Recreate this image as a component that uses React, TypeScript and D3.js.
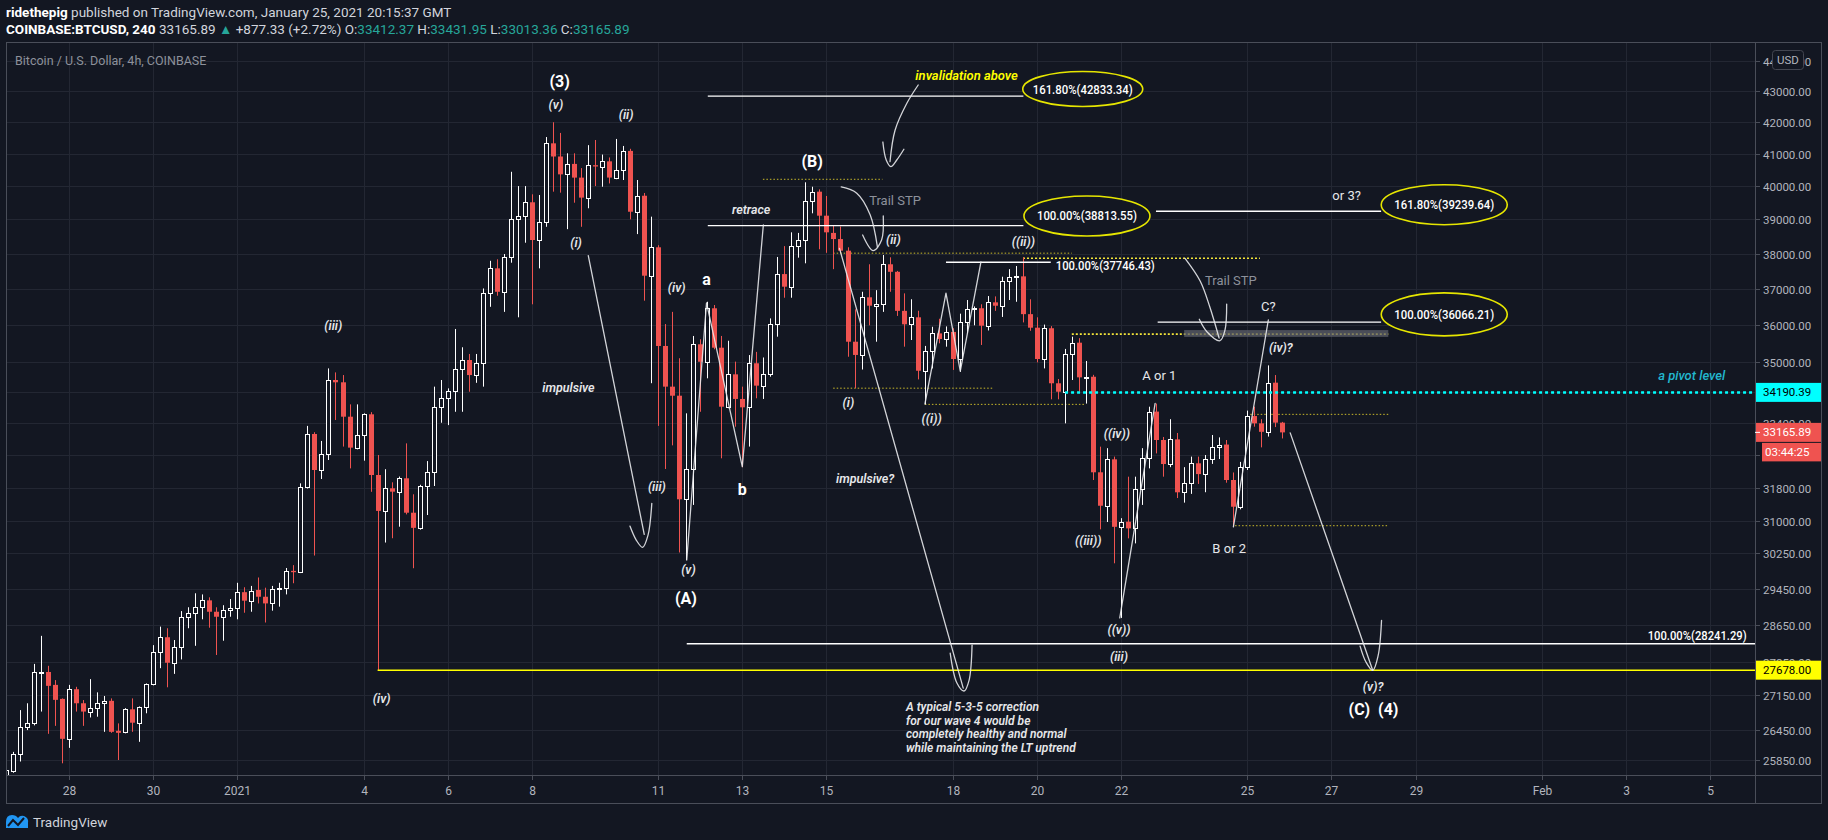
import React from 'react';
import * as d3 from 'd3';

// ---------------- DATA ----------------
const firstCandleUTC = Date.UTC(2020, 11, 26, 12); // first 4h bar open
const barHours = 4;

const opens = [
  25480, 25640, 25960, 26500, 26580, 27630, 27640, 27370, 27080, 26270,
  27280, 26990, 26820, 26900, 26990, 27040, 26430, 26400, 26866, 26594,
  26920, 27380, 28054, 28380, 27822, 28162, 28813, 28900, 29048, 29188,
  28936, 28826, 28967, 29012, 29370, 29180, 29420, 29268, 29120, 29436,
  29460, 29850, 29820, 31810, 33125, 32230, 32625, 34514, 34454, 33564,
  32783, 33093, 33625, 32108, 31243, 31785, 31703, 32027, 31200, 30843,
  31840, 32174, 33804, 34037, 34226, 34794, 35043, 34644, 34956, 36865,
  37573, 36910, 37890, 39002, 39100, 39510, 38392, 38930, 41322, 40910,
  40358, 40680, 40258, 39650, 40640, 40600, 40760, 40260, 40480, 41085,
  39227, 39707, 37364, 38180, 35419, 34340, 34104, 31520, 32247, 35464,
  34997, 36449, 35373, 33820, 34663, 34020, 33804, 34956, 34366, 34663,
  36008, 37410, 37053, 38226, 38392, 39548, 39830, 39109, 38600, 38420,
  38082, 35534, 35178, 36755, 36521, 36580, 37690, 37475, 36378, 36008,
  36200, 34758, 35294, 35760, 35607, 35800, 35070, 36079, 36420, 36450,
  35970, 36614, 36520, 37222, 37335, 37345, 36287, 35915, 35070, 35900,
  34428, 34208, 35197, 35508, 34584, 34600, 32174, 31366, 32493, 30867,
  30987, 30830, 31761, 32518, 33694, 32974, 32377, 32990, 31688, 31906,
  32395, 32130, 32500, 32808, 32860, 31986, 31342, 32296, 33581, 33395,
  33180, 34444, 33412.37,
];
const highs = [
  25700, 26010, 26850, 26990, 27810, 28410, 27770, 27470, 27090, 27370,
  27330, 27056, 27490, 27215, 27140, 27090, 26580, 26890, 27090, 26925,
  27400, 28210, 28610, 28575, 28320, 28950, 29035, 29345, 29320, 29255,
  29035, 29080, 29217, 29580, 29480, 29510, 29700, 29470, 29510, 29580,
  29915, 29980, 31905, 33330, 33170, 32950, 34820, 34714, 34644, 33880,
  33880, 33650, 33680, 32600, 32250, 31930, 32070, 32890, 31640, 31870,
  32450, 34340, 34514, 34295, 35880, 35384, 35204, 35204, 37003, 37790,
  37833, 37985, 40437, 40000, 40000, 39750, 39730, 41520, 41990, 41650,
  41010, 41010, 40550, 41265, 41427, 40970, 40880, 41460, 41240, 41150,
  40185, 39790, 39080, 38240, 36015, 36350, 35090, 33650, 35690, 35600,
  36630, 36540, 35690, 35560, 35000, 34340, 35175, 35260, 35110, 36170,
  37900, 38214, 38617, 38600, 40115, 39980, 39900, 39700, 38820, 38790,
  38180, 36420, 36910, 37690, 36955, 37956, 37890, 37500, 36865, 36700,
  36380, 35420, 35940, 36160, 35950, 35900, 36300, 36679, 36500, 36560,
  36790, 36780, 37335, 37550, 37640, 37890, 36700, 36200, 36000, 35958,
  34540, 35340, 35670, 35630, 35017, 34650, 32808, 32770, 32560, 31070,
  32067, 32067, 32770, 33820, 33900, 33050, 33500, 33150, 32300, 32560,
  32560, 32600, 33100, 33040, 32974, 32170, 32430, 33720, 33820, 33500,
  34900, 34644, 33431.95,
];
const lows = [
  25350, 25600, 25820, 26445, 26540, 26820, 26370, 26530, 25785, 26090,
  26820, 26530, 26700, 26715, 26410, 26390, 25850, 26380, 26410, 26210,
  26785, 27360, 27720, 27320, 27600, 27905, 28575, 28196, 28770, 28587,
  28000, 28305, 28826, 28770, 28914, 28936, 29120, 28700, 28960, 29048,
  29320, 29570, 29800, 31780, 30200, 32010, 32476, 33480, 32810, 32270,
  32740, 32460, 31700, 27678, 30500, 30600, 30870, 31160, 29910, 30800,
  31145, 31840, 33410, 33350, 33690, 33690, 34208, 34440, 34340, 36490,
  36800, 36350, 37735, 36200, 38313, 36560, 37573, 38780, 39830, 39800,
  38710, 39497, 38780, 39330, 40000, 39980, 40080, 40210, 40185, 39000,
  38565, 36660, 34430, 33330, 32255, 32840, 30270, 30097, 31385, 33690,
  34558, 35330, 32518, 33780, 33310, 32300, 32810, 34037, 34020, 34600,
  35670, 36743, 36743, 37880, 37718, 39180, 38123, 38020, 37550, 38020,
  35130, 34300, 34790, 35980, 35534, 36350, 36910, 36238, 35400, 35580,
  34530, 33880, 34820, 35490, 35400, 34780, 34730, 35760, 35980, 35446,
  35840, 36378, 36210, 36679, 36630, 36060, 35830, 34980, 34820, 34011,
  34011, 33395, 34514, 34208, 33900, 31986, 30808, 30980, 30022, 28800,
  30597, 30480, 31385, 32270, 32640, 32067, 32300, 31550, 31440, 31650,
  31890, 31690, 32380, 32500, 31920, 30880, 31280, 32230, 33310, 32790,
  33060, 33300, 33013.36,
];
const closes = [
  25650, 25970, 26500, 26580, 27630, 27640, 27350, 27060, 26270, 27280,
  26990, 26820, 26900, 26990, 27040, 26410, 26390, 26866, 26594, 26920,
  27380, 28054, 28380, 27835, 28162, 28813, 28900, 29048, 29188, 28936,
  28826, 28967, 29012, 29370, 29180, 29405, 29268, 29120, 29436, 29460,
  29850, 29820, 31810, 33125, 32230, 32625, 34514, 34454, 33564, 32783,
  33093, 33625, 32108, 31243, 31785, 31703, 32027, 31200, 30843, 31840,
  32174, 33804, 34037, 34226, 34794, 35043, 34644, 34955, 36865, 37573,
  36910, 37890, 39002, 39100, 39510, 38392, 38930, 41322, 40910, 40358,
  40680, 40258, 39650, 40640, 40600, 40760, 40260, 40480, 41085, 39227,
  39707, 37364, 38180, 35419, 34340, 34104, 31520, 32247, 35464, 34997,
  36449, 35373, 33820, 34663, 34020, 33804, 34956, 34366, 34663, 36008,
  37410, 37053, 38226, 38392, 39548, 39830, 39109, 38617, 38420, 38082,
  35534, 35178, 36755, 36521, 36580, 37690, 37475, 36378, 36008, 36200,
  34758, 35294, 35760, 35607, 35800, 35070, 36079, 36420, 36450, 35970,
  36614, 36520, 37222, 37335, 37345, 36287, 35915, 35070, 35900, 34428,
  34208, 35197, 35508, 34584, 34600, 32174, 31366, 32493, 30867, 30987,
  30830, 31761, 32518, 33694, 32974, 32377, 32990, 31688, 31906, 32395,
  32130, 32500, 32808, 32860, 31986, 31342, 32296, 33581, 33395, 33180,
  34444, 33412.37, 33165.89,
];

const priceTicks = [44000, 43000, 42000, 41000, 40000, 39000, 38000, 37000, 36000, 35000, 34200, 33400, 32600, 31800, 31000, 30250, 29450, 28650, 27850, 27150, 26450, 25850];
// tick labels hidden behind price badges in the reference
const hiddenTickLabels = [34200, 32600];

const dateTickLabels = ['28', '30', '2021', '4', '6', '8', '11', '13', '15', '18', '20', '22', '25', '27', '29', 'Feb', '3', '5'];
const dateTickDays = ['2020-12-28', '2020-12-30', '2021-01-01', '2021-01-04', '2021-01-06', '2021-01-08', '2021-01-11', '2021-01-13', '2021-01-15', '2021-01-18', '2021-01-20', '2021-01-22', '2021-01-25', '2021-01-27', '2021-01-29', '2021-02-01', '2021-02-03', '2021-02-05'];

// price levels (fib tools): [value, fromDay, toDay or null = to right edge]
const levelValues = [42833.34, 38813.55, 39239.64, 37746.43, 36066.21, 28241.29];
const levelFrom = [11.18, 11.18, 21.83, 16.84, 21.87, 10.68];
const levelTo = [18.68, 18.68, 27.18, 19.33, 27.18, null];

const lastPrice = 33165.89;
const pivotLevel = 34190.39;
const wave4Low = 27678.0;

// dotted marker levels: [price, fromDay, toDay]
const dottedPrices = [40207, 38010, 34300, 33880, 37861, 35740, 33624, 30893];
const dottedFrom = [12.49, 14.16, 14.16, 16.34, 18.67, 19.83, 24.07, 23.71];
const dottedTo = [15.33, 19.83, 17.98, 20.14, 24.30, 27.35, 27.35, 27.35];

// ellipse call-outs: label, day, price
const calloutLabels = ['161.80%(42833.34)', '100.00%(38813.55)', '161.80%(39239.64)', '100.00%(36066.21)'];
const calloutDays = [20.09, 20.19, 28.68, 28.68];
const calloutPrices = [43065, 39100, 39438, 36281];

// hand-drawn strokes: list of [day, price]
const strokes: [number, number][][] = [
  [[8.34, 37937], [9.67, 30690]],
  [[9.33, 30885], [9.48, 30558], [9.63, 30390], [9.76, 30674], [9.85, 31424]],
  [[10.68, 30097], [11.15, 36597], [12.0, 32312], [12.5, 38834]],
  [[14.31, 38149], [17.25, 27303]],
  [[16.94, 28041], [17.10, 27409], [17.27, 27243], [17.39, 27471], [17.46, 28212]],
  [[14.35, 39973], [14.72, 39784], [15.04, 39129], [15.21, 38196]],
  [[14.86, 38538], [15.11, 38082], [15.31, 38392], [15.35, 39100]],
  [[16.18, 43197], [15.91, 42600], [15.63, 41736], [15.51, 40748]],
  [[15.34, 41363], [15.42, 40801], [15.53, 40596], [15.67, 40801], [15.84, 41137]],
  [[16.34, 33890], [16.84, 36874], [17.18, 34750], [17.67, 37755]],
  [[22.52, 37861], [22.88, 37214], [23.11, 36485], [23.33, 35634]],
  [[22.86, 36145], [23.04, 35805], [23.35, 35561], [23.47, 35851], [23.51, 36567]],
  [[20.97, 28800], [21.81, 33907]],
  [[23.67, 30868], [24.50, 36126]],
  [[25.02, 33153], [26.98, 27675]],
  [[26.68, 28190], [26.82, 27850], [26.98, 27675], [27.11, 27990], [27.19, 28745]],
];
const curvedStrokes = [false, true, false, false, true, true, true, true, true, false, true, true, false, false, false, true];

// text annotations
const noteTexts = ['(3)', '(v)', '(ii)', '(i)', '(iii)', '(iv)', 'a', 'impulsive', '(iii)', 'b', '(v)', '(A)', 'retrace', '(B)', 'Trail STP', '(ii)', '((ii))', '(i)', '((i))', 'impulsive?', '((iii))', '((iv))', 'A or 1', '((v))', '(iii)', 'B or 2', 'C?', '(iv)?', 'Trail STP', 'invalidation above', 'or 3?', 'a pivot level', '(v)?', '(C)  (4)', '(iv)'];
const noteDays = [7.66, 7.57, 9.24, 8.05, 2.28, 10.44, 11.15, 7.87, 9.97, 12.0, 10.72, 10.66, 12.21, 13.66, 15.63, 15.59, 18.68, 14.52, 16.5, 14.92, 20.22, 20.9, 21.91, 20.95, 20.95, 23.57, 24.5, 24.8, 23.61, 17.33, 26.36, 34.56, 26.99, 27.0, 3.43];
const notePrices = [43309, 42545, 42245, 38305, 35970, 37035, 37270, 34320, 31823, 31761, 29889, 29232, 39279, 40746, 39569, 38421, 38363, 33933, 33521, 32034, 30542, 33143, 34644, 28552, 27968, 30358, 36494, 35384, 37222, 43503, 39705, 34620, 27330, 26857, 27095];
const noteKinds = ['big', 'wave', 'wave', 'wave', 'wave', 'wave', 'big', 'wave', 'wave', 'big', 'wave', 'big', 'wave', 'big', 'grey', 'wave', 'wave', 'wave', 'wave', 'wave', 'wave', 'wave', 'plain', 'wave', 'wave', 'plain', 'plain', 'wave', 'grey', 'yellow', 'plain', 'cyan', 'wave', 'big', 'wave'];

const paragraph = ['A typical 5-3-5 correction', 'for our wave 4 would be', 'completely healthy and normal', 'while maintaining the LT uptrend'];
const paragraphDay = 15.89;
const paragraphPrice = 26913;

// ---------------- CHART ----------------
const BG = '#131722';
const RED = '#ef5350';
const FONT = 'Roboto, "Noto Sans", sans-serif';
const DAY = 86400000;
const JAN1 = Date.UTC(2021, 0, 1);

export default function App() {
  const W = 1828, H = 840;
  const L = 7, T = 43, R = 1755, B = 775, FR = 1821, FB = 803;

  const x = d3.scaleUtc().domain([new Date(JAN1), new Date(Date.UTC(2021, 1, 5))]).range([237.3, 1710.2]);
  const y = d3.scaleLog().domain([25850, 43000]).range([760, 91]);
  const dx = (d: number) => x(new Date(JAN1 + d * DAY));

  const candles = opens.map((o, i) => ({
    t: new Date(firstCandleUTC + i * barHours * 3600000),
    o, h: highs[i], l: lows[i], c: closes[i],
  }));

  const straight = d3.line<[number, number]>().x(p => dx(p[0])).y(p => y(p[1]));
  const smooth = d3.line<[number, number]>().x(p => dx(p[0])).y(p => y(p[1])).curve(d3.curveCatmullRom.alpha(0.5));

  const fmt = d3.format('.2f');

  const kindStyle: Record<string, any> = {
    big: { fontSize: 16, fontWeight: 700, fill: '#ffffff', fontStyle: 'normal' },
    wave: { fontSize: 12.5, fontWeight: 600, fill: '#e6e7ea', fontStyle: 'italic' },
    plain: { fontSize: 13, fontWeight: 400, fill: '#e6e7ea', fontStyle: 'normal' },
    grey: { fontSize: 13, fontWeight: 400, fill: '#8d919b', fontStyle: 'normal' },
    yellow: { fontSize: 13, fontWeight: 600, fill: '#ffff00', fontStyle: 'italic' },
    cyan: { fontSize: 13, fontWeight: 500, fill: '#22b8cf', fontStyle: 'italic' },
  };

  const grid = '#232733';
  const axisText = '#b2b5be';

  return (
    <svg width={W} height={H} style={{ position: 'absolute', left: 0, top: 0, display: 'block' }} fontFamily={FONT}>
      <rect x={0} y={0} width={W} height={H} fill={BG} />
      <defs>
        <clipPath id="plot"><rect x={L} y={T} width={R - L} height={B - T} /></clipPath>
      </defs>

      {/* header */}
      <text x={6} y={17} fontSize={13.5}>
        <tspan fill="#ffffff" fontWeight={700}>ridethepig</tspan>
        <tspan fill="#d1d4dc"> published on TradingView.com, January 25, 2021 20:15:37 GMT</tspan>
      </text>
      <text x={6} y={34} fontSize={13.5} fill="#d1d4dc">
        <tspan fill="#ffffff" fontWeight={700}>COINBASE:BTCUSD, 240</tspan>
        <tspan> 33165.89 </tspan>
        <tspan fill="#26a69a">▲</tspan>
        <tspan> +877.33 (+2.72%) O:</tspan><tspan fill="#26a69a">33412.37</tspan>
        <tspan> H:</tspan><tspan fill="#26a69a">33431.95</tspan>
        <tspan> L:</tspan><tspan fill="#26a69a">33013.36</tspan>
        <tspan> C:</tspan><tspan fill="#26a69a">33165.89</tspan>
      </text>

      {/* grid */}
      <g clipPath="url(#plot)">
        {priceTicks.map(p => (
          <line key={'hg' + p} x1={L} x2={R} y1={Math.round(y(p)) + 0.5} y2={Math.round(y(p)) + 0.5} stroke={grid} />
        ))}
        {dateTickDays.map(d => {
          const xx = Math.round(x(new Date(d + 'T00:00:00Z'))) + 0.5;
          return <line key={'vg' + d} x1={xx} x2={xx} y1={T} y2={B} stroke={grid} />;
        })}
      </g>

      <text x={15} y={65} fontSize={12.5} fill="#8d919b">Bitcoin / U.S. Dollar, 4h, COINBASE</text>

      <g clipPath="url(#plot)">
        {/* dotted marker levels */}
        {dottedPrices.map((p, i) => {
          const bright = i === 4 || i === 5;
          return (
            <line key={'dt' + i} x1={dx(dottedFrom[i])} x2={dx(dottedTo[i])} y1={y(p)} y2={y(p)}
              stroke={bright ? '#f5e63a' : '#c9b92a'} strokeWidth={bright ? 1.6 : 1}
              strokeDasharray={bright ? '2 2' : '1.5 2'} />
          );
        })}
        <rect x={dx(22.5)} y={y(35850)} width={dx(27.35) - dx(22.5)} height={y(35665) - y(35850)} fill="#5d606b" opacity={0.75} />

        {/* candles */}
        {candles.map((k, i) => {
          const cx = Math.round(x(k.t)) + 0.5;
          const up = k.c >= k.o;
          const yTop = y(Math.max(k.o, k.c));
          const yBot = y(Math.min(k.o, k.c));
          const yH = y(k.h), yL = y(k.l);
          if (up) {
            const t0 = Math.round(yTop) + 0.5;
            const b0 = Math.max(Math.round(yBot) + 0.5, t0 + 1);
            return (
              <g key={i}>
                <line x1={cx} x2={cx} y1={yH} y2={t0} stroke="#ffffff" />
                <line x1={cx} x2={cx} y1={b0} y2={yL} stroke="#ffffff" />
                <rect x={cx - 2} y={t0} width={4} height={b0 - t0} fill={BG} stroke="#ffffff" strokeWidth={1} />
              </g>
            );
          }
          return (
            <g key={i}>
              <line x1={cx} x2={cx} y1={yH} y2={yL} stroke={RED} />
              <rect x={cx - 2.5} y={yTop} width={5} height={Math.max(yBot - yTop, 1)} fill={RED} />
            </g>
          );
        })}

        {/* level lines */}
        {levelValues.map((v, i) => (
          <line key={'lv' + i} x1={dx(levelFrom[i])} x2={levelTo[i] === null ? R : dx(levelTo[i] as number)}
            y1={y(v)} y2={y(v)} stroke="#ffffff" strokeWidth={1.4} />
        ))}
        <line x1={dx(3.334)} x2={R} y1={y(wave4Low)} y2={y(wave4Low)} stroke="#ffff00" strokeWidth={1.5} />
        <line x1={dx(19.67)} x2={R} y1={y(pivotLevel)} y2={y(pivotLevel)} stroke="#00ffff" strokeWidth={2.5} strokeDasharray="3 3" />

        {/* hand strokes */}
        {strokes.map((s, i) => (
          <path key={'st' + i} d={(curvedStrokes[i] ? smooth(s) : straight(s)) || ''} fill="none"
            stroke="#e8e9ec" strokeWidth={1.3} strokeLinecap="round" strokeLinejoin="round" opacity={0.9} />
        ))}

        {/* callout ellipses */}
        {calloutLabels.map((lab, i) => {
          const cx = dx(calloutDays[i]);
          const cy = y(calloutPrices[i]);
          return (
            <g key={'co' + i}>
              <ellipse cx={cx} cy={cy} rx={i === 0 ? 60 : 63} ry={i === 0 ? 17.5 : i === 3 ? 21.5 : 20}
                fill={BG} stroke="#e6e600" strokeWidth={1.6} />
              <text x={cx} y={cy} textAnchor="middle" dominantBaseline="central" fontSize={13} fontWeight={500}
                fill="#ffffff" textLength={100} lengthAdjust="spacingAndGlyphs">{lab}</text>
            </g>
          );
        })}
        <text x={dx(19.45)} y={y(37668)} dominantBaseline="central" fontSize={13} fontWeight={500} fill="#ffffff"
          textLength={99} lengthAdjust="spacingAndGlyphs">100.00%(37746.43)</text>
        <text x={1746.7} y={y(28413)} textAnchor="end" dominantBaseline="central" fontSize={13} fontWeight={500} fill="#ffffff"
          textLength={99} lengthAdjust="spacingAndGlyphs">100.00%(28241.29)</text>

        {/* labels */}
        {noteTexts.map((t, i) => {
          const st = kindStyle[noteKinds[i]];
          return (
            <text key={'nt' + i} x={dx(noteDays[i])} y={y(notePrices[i])} textAnchor="middle" dominantBaseline="central"
              fontSize={st.fontSize} fontWeight={st.fontWeight} fontStyle={st.fontStyle} fill={st.fill}
              style={{ whiteSpace: 'pre' }}>{t}</text>
          );
        })}
        {paragraph.map((t, i) => (
          <text key={'pg' + i} x={dx(paragraphDay)} y={y(paragraphPrice) + i * 13.6} dominantBaseline="central"
            fontSize={12} fontWeight={600} fontStyle="italic" fill="#e6e7ea">{t}</text>
        ))}
      </g>

      {/* frame */}
      <rect x={L - 0.5} y={T - 0.5} width={FR - L + 1} height={FB - T + 1} fill="none" stroke="#4a4e59" />
      <line x1={R + 0.5} x2={R + 0.5} y1={T} y2={FB} stroke="#4a4e59" />
      <line x1={L} x2={FR} y1={B + 0.5} y2={B + 0.5} stroke="#4a4e59" />

      {/* price axis */}
      {priceTicks.map(p => {
        const yy = Math.round(y(p)) + 0.5;
        return (
          <g key={'pt' + p}>
            <line x1={R} x2={R + 5} y1={yy} y2={yy} stroke="#4a4e59" />
            {hiddenTickLabels.indexOf(p) < 0 && (
              <text x={1763} y={yy} dominantBaseline="central" fontSize={11.5} fill={axisText}>{fmt(p)}</text>
            )}
          </g>
        );
      })}
      <rect x={1772.5} y={50.5} width={31} height={19} rx={3} fill={BG} stroke="#434651" />
      <text x={1788} y={60} textAnchor="middle" dominantBaseline="central" fontSize={11.5} fill={axisText}>USD</text>

      {/* price badges */}
      <rect x={R + 1} y={y(pivotLevel) - 9.5} width={FR - R - 1} height={19} fill="#00ffff" />
      <text x={1763} y={y(pivotLevel)} dominantBaseline="central" fontSize={11.5} fill="#000000">{fmt(pivotLevel)}</text>
      <rect x={R + 1} y={y(lastPrice) - 9.5} width={FR - R - 1} height={19} fill={RED} />
      <line x1={R} x2={R + 5} y1={y(lastPrice)} y2={y(lastPrice)} stroke="#ffffff" />
      <text x={1763} y={y(lastPrice)} dominantBaseline="central" fontSize={11.5} fill="#ffffff">{fmt(lastPrice)}</text>
      <rect x={1762} y={y(lastPrice) + 10.5} width={FR - 1762} height={18.5} fill={RED} />
      <text x={1765} y={y(lastPrice) + 19.8} dominantBaseline="central" fontSize={11.5} fill="#ffffff">03:44:25</text>
      <rect x={R + 1} y={y(wave4Low) - 9.5} width={FR - R - 1} height={19} fill="#ffff00" />
      <text x={1763} y={y(wave4Low)} dominantBaseline="central" fontSize={11.5} fill="#000000">{fmt(wave4Low)}</text>

      {/* time axis */}
      {dateTickDays.map((d, i) => {
        const xx = Math.round(x(new Date(d + 'T00:00:00Z'))) + 0.5;
        return (
          <g key={'xt' + d}>
            <line x1={xx} x2={xx} y1={B} y2={B + 5} stroke="#4a4e59" />
            <text x={xx} y={791} textAnchor="middle" dominantBaseline="central" fontSize={12} fill={axisText}>{dateTickLabels[i]}</text>
          </g>
        );
      })}

      {/* TradingView mark */}
      <g>
        <path d="M6 828 L6 822 Q6 815 12 815 Q16 815 18 818 Q20 815 24 816 Q29 818 28 823 L28 828 Z" fill="#2196f3" />
        <path d="M8 826 L13 820 L18 825 L24 818" fill="none" stroke={BG} strokeWidth={2} />
        <text x={33} y={822} dominantBaseline="central" fontSize={13.5} fill="#d1d4dc">TradingView</text>
      </g>
    </svg>
  );
}
